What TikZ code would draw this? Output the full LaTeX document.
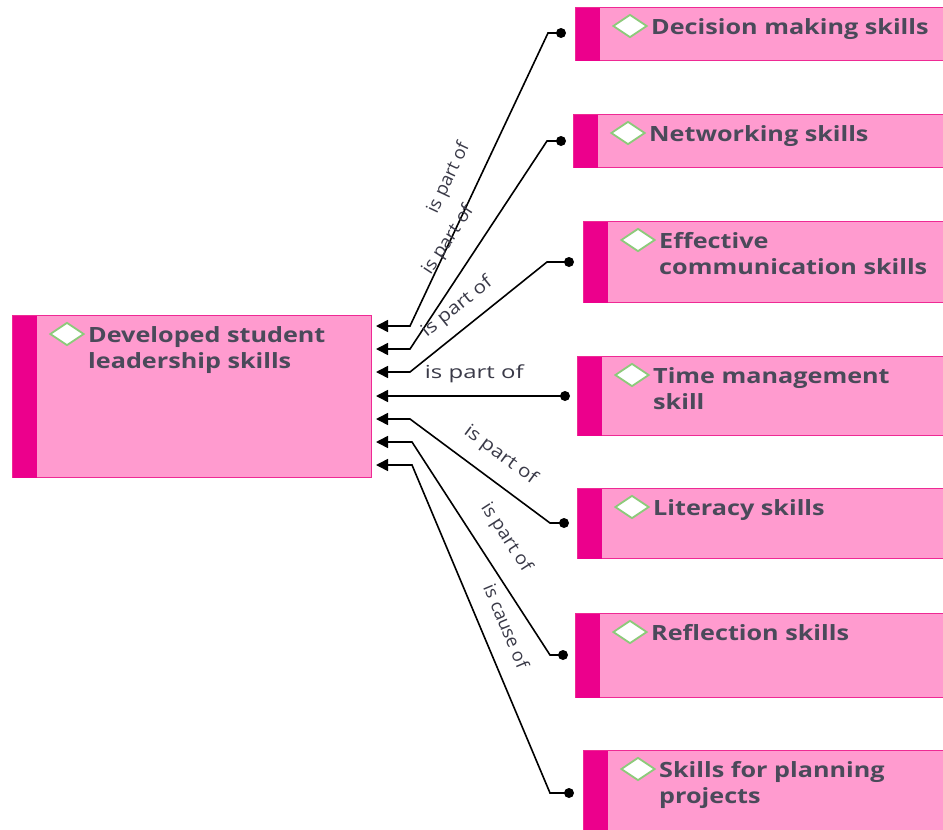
\documentclass[tikz,border=0pt]{standalone}
\usepackage{fontspec}
\usepackage{graphicx}
\usetikzlibrary{shapes.geometric,arrows.meta,calc}
\IfFontExistsTF{Open Sans SemiBold}{\newfontfamily\titlefontbase{Open Sans SemiBold}[FakeStretch=1.2]\def\titlefont{\titlefontbase}}{\newfontfamily\titlefontbase{Open Sans}[FakeStretch=1.2]\def\titlefont{\titlefontbase\bfseries}}
\newfontfamily\labfont{Open Sans}
\newcommand\lbl[2]{\scalebox{#1}[1]{#2}}
\definecolor{boxfill}{HTML}{FF9BCF}
\definecolor{boxbar}{HTML}{EC008C}
\definecolor{boxline}{HTML}{EE2A94}
\definecolor{diagreen}{HTML}{8CCB7A}
\definecolor{titlecol}{HTML}{4A4A5A}
\definecolor{labcol}{HTML}{3A3A48}
\newcommand\skillbox[7]{% name, x, y, w, h, extra lines shift, text
  \node[box, minimum width=#4pt, minimum height=#5pt] (#1) at (#2,#3) {};
  \fill[boxbar] ([shift={(0.5pt,-0.5pt)}]#1.north west) rectangle ([shift={(25pt,0.5pt)}]#1.south west);
  \node[diam] (#1d) at ([shift={(55pt,-19pt)}]#1.north west) {};
  \node[title] (#1t) at ([shift={(21pt,-8pt-#6pt)}]#1d.center) {#7};
}
\begin{document}
\begin{tikzpicture}[x=1pt,y=-1pt,
  box/.style={draw=boxline, fill=boxfill, line width=1pt, rectangle, inner sep=0pt, anchor=north west},
  diam/.style={diamond, draw=diagreen, fill=white, line width=1.8pt, minimum width=34pt, minimum height=23pt, inner sep=0pt},
  title/.style={anchor=base west, inner sep=0pt, align=left, text=titlecol, font=\titlefont\fontsize{21}{26}\selectfont},
  conn/.style={draw=black, line width=1.6pt, -{Triangle[length=12pt,width=12pt]}},
  dot/.style={circle, fill=black, minimum size=10pt, inner sep=0pt},
  lab/.style={sloped, inner sep=0pt, text=labcol, font=\labfont\fontsize{18}{20}\selectfont}]
\useasboundingbox (0,0) rectangle (943,830);
\clip (0,0) rectangle (943,830);
\fill[white] (0,0) rectangle (943,830);
% left box
\skillbox{L}{12}{315}{359}{162}{26}{Developed student\\leadership skills}
% right boxes
\skillbox{R1}{575}{7}{380}{53}{0}{Decision making skills}
\skillbox{R2}{573}{114}{380}{53}{0}{Networking skills}
\skillbox{R3}{583}{221}{380}{81}{26}{Effective\\communication skills}
\skillbox{R4}{577}{356}{380}{79}{26}{Time management\\skill}
\skillbox{R5}{577}{488}{380}{70}{0}{Literacy skills}
\skillbox{R6}{575}{613}{380}{84}{0}{Reflection skills}
\skillbox{R7}{583}{750}{380}{90}{26}{Skills for planning\\projects}
% arrow tips on the left box
\coordinate (a1) at (376,326);
\coordinate (a2) at (376,349);
\coordinate (a3) at (376,372);
\coordinate (a4) at (376,396);
\coordinate (a5) at (376,419);
\coordinate (a6) at (376,442);
\coordinate (a7) at (376,465);
% dots
\node[dot] (d1) at (561,33) {};
\node[dot] (d2) at (561,141) {};
\node[dot] (d3) at (569,262) {};
\node[dot] (d4) at (565,396) {};
\node[dot] (d5) at (564,523) {};
\node[dot] (d6) at (563,655) {};
\node[dot] (d7) at (569,793) {};
% connectors
\draw[conn] (d1.center) -- ++(-13,0) -- node[lab, pos=.535, above=18pt] {\lbl{1.03}{is part of}} ($(a1)+(34,0)$) -- (a1);
\draw[conn] (d2.center) -- ++(-14,0) -- node[lab, pos=.55, above=18pt] {\lbl{1.06}{is part of}} ($(a2)+(34,0)$) -- (a2);
\draw[conn] (d3.center) -- ++(-22,0) -- node[lab, pos=.56, above=11pt] {\lbl{1.15}{is part of}} ($(a3)+(34,0)$) -- (a3);
\draw[conn] (d4.center) -- node[lab, pos=.48, above=12pt] {\lbl{1.33}{is part of}} (a4);
\draw[conn] (d5.center) -- ++(-14,0) -- node[lab, pos=.46, above=15pt] {\lbl{1.16}{is part of}} ($(a5)+(34,0)$) -- (a5);
\draw[conn] (d6.center) -- ++(-13,0) -- node[lab, pos=.483, above=17pt] {\lbl{1.06}{is part of}} ($(a6)+(36,0)$) -- (a6);
\draw[conn] (d7.center) -- ++(-19,0) -- node[lab, pos=.48, above=17pt] {\lbl{1.02}{is cause of}} ($(a7)+(36,0)$) -- (a7);
\end{tikzpicture}
\end{document}
